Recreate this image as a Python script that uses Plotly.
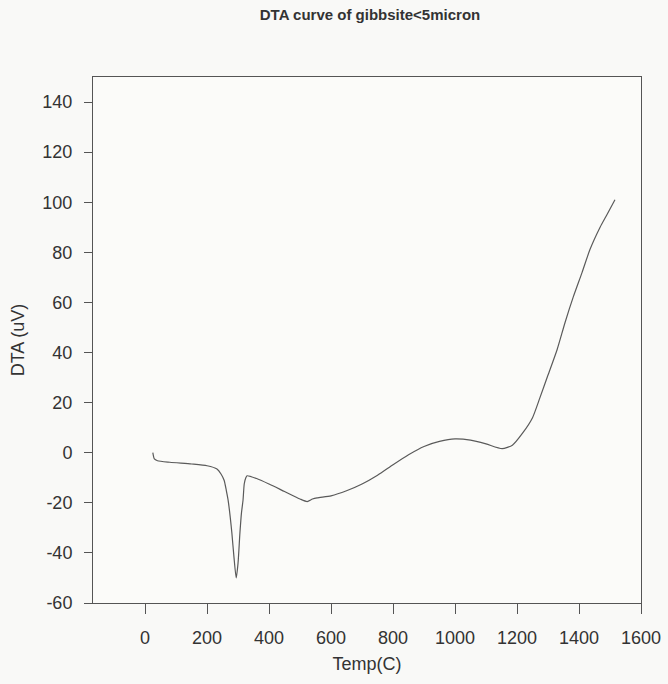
import plotly.graph_objects as go

title_text = "DTA curve of gibbsite<5micron"
x_title = "Temp(C)"
y_title = "DTA (uV)"

temp = [25, 30, 40, 80, 150, 200, 232, 245, 255, 262, 268, 275, 280, 287, 294,
        300, 306, 311, 316, 320, 325, 329, 360, 400, 450, 500, 523, 540, 555,
        600, 650, 700, 750, 800, 850, 900, 950, 1000, 1050, 1100, 1152, 1185,
        1219, 1250, 1274, 1300, 1329, 1355, 1381, 1410, 1435, 1468, 1490, 1516]
dta = [0, -2.5, -3.2, -3.8, -4.5, -5.2, -6.5, -8.5, -11, -15, -19, -26, -32, -42, -50,
       -44, -32, -24, -19, -12.4, -10, -9.2, -10.3, -12.5, -15.5, -18.5, -19.5, -18.5, -18,
       -17.2, -15.2, -12.5, -9, -4.8, -0.8, 2.5, 4.5, 5.5, 5, 3.5, 1.6, 3,
       8, 14, 22, 31, 41, 52, 62, 72, 81, 90, 95, 101]

x_ticks = [0, 200, 400, 600, 800, 1000, 1200, 1400, 1600]
y_ticks = [-60, -40, -20, 0, 20, 40, 60, 80, 100, 120, 140]

fig = go.Figure()
fig.add_trace(go.Scatter(
    x=temp, y=dta, mode="lines",
    line=dict(color="#5a5a5a", width=1.2, shape="spline", smoothing=0.6),
    showlegend=False, hoverinfo="x+y",
))

font_family = "Liberation Sans, Arial, sans-serif"
fig.update_layout(
    width=668, height=684,
    margin=dict(l=93, r=27, t=77, b=81),
    paper_bgcolor="#f9f9f7",
    plot_bgcolor="#fbfbf9",
    font=dict(family=font_family, color="#333333", size=18),
    title=dict(text="<b>" + title_text + "</b>", x=370 / 668, xanchor="center",
               y=1 - 15 / 684, yanchor="middle", yref="container",
               font=dict(size=15, color="#333333", family=font_family)),
)
fig.update_xaxes(
    range=[-168, 1600], tickvals=x_ticks, ticktext=[str(v) for v in x_ticks],
    showgrid=False, zeroline=False, automargin=False,
    showline=True, linecolor="#555555", linewidth=1, mirror=True,
    ticks="outside", ticklen=10, tickcolor="#555555", tickwidth=1,
    ticklabelstandoff=8,
    tickfont=dict(size=18, color="#333333"),
    title=dict(text=x_title, font=dict(size=18, color="#333333"), standoff=10),
)
fig.update_yaxes(
    range=[-60, 150], tickvals=y_ticks, ticktext=[str(v) for v in y_ticks],
    showgrid=False, zeroline=False, automargin=False,
    showline=True, linecolor="#555555", linewidth=1, mirror=True,
    ticks="outside", ticklen=8, tickcolor="#555555", tickwidth=1,
    ticklabelstandoff=8,
    tickfont=dict(size=18, color="#333333"),
    title=dict(text=y_title, font=dict(size=18, color="#333333"), standoff=13),
)

fig.write_html("out.html")
